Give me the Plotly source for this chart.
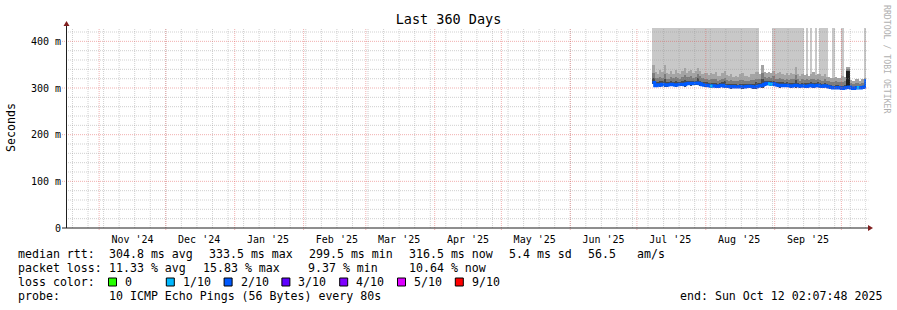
import pandas as pd
import plotly.graph_objects as go

# ---------------- data ----------------
range_start = "2024-10-17 02:07:48"
range_end = "2025-10-12 02:07:48"
first_day = "2025-07-08"

# daily median rtt (ms), Jul 8 .. Oct 12 2025
median_ms = [
    312, 305, 307, 306, 308, 307, 306, 307, 308, 307, 306, 307, 308, 308, 307, 309, 310, 309, 310, 310, 311, 309, 307, 306,
    306, 305, 304, 305, 304, 303, 305, 306, 304, 303, 303, 302, 303, 302, 302, 303, 302, 302, 303, 304, 303, 302, 302, 304,
    305, 306, 308, 310, 309, 308, 309, 307, 306, 305, 306, 305,
    306, 305, 304, 305, 306, 305, 304, 305, 304, 303, 305, 306, 304, 305, 306, 304, 303, 305, 304, 302,
    301, 300, 300, 301, 300, 299, 300, 301,
    302, 300, 299, 300, 301, 300, 301, 302, 316,
]
# lost pings out of 10 per day
loss_count = [
    2, 2, 2, 2, 2, 2, 2, 2, 2, 2, 2, 2, 2, 2, 2, 2, 2, 2, 2, 2, 2, 2, 2, 2,
    2, 2, 1, 2, 2, 2, 2, 2, 2, 2, 2, 2, 2, 2, 2, 2, 2, 2, 2, 2, 2, 2, 2, 2,
    2, 2, 2, 2, 1, 1, 2, 2, 2, 2, 2, 2,
    2, 2, 2, 2, 2, 2, 2, 2, 2, 2, 2, 2, 2, 2, 2, 2, 2, 2, 2, 2,
    2, 2, 2, 2, 2, 2, 2, 2,
    2, 2, 2, 2, 1, 2, 2, 2, 2,
]
# smoke extent below median (ms)
smoke_below = [
    4, 3, 3, 4, 3, 5, 3, 3, 4, 3, 4, 3, 3, 4, 5, 3, 3, 4, 3, 3, 4, 4, 3, 3,
    3, 3, 4, 3, 4, 3, 3, 3, 4, 3, 3, 4, 3, 3, 3, 3, 4, 3, 3, 3, 3, 4, 4, 4,
    3, 5, 4, 3, 3, 3, 4, 3, 3, 4, 3, 3,
    3, 3, 4, 3, 5, 3, 3, 3, 3, 4, 3, 3, 4, 3, 3, 3, 3, 3, 3, 3,
    3, 3, 3, 3, 3, 3, 3, 4,
    4, 3, 3, 3, 3, 3, 3, 3, 3,
]
# dense (dark) smoke above median (ms)
smoke_dark = [
    10, 7, 6, 8, 6, 12, 6, 5, 7, 6, 9, 6, 5, 7, 11, 6, 6, 7, 5, 6, 10, 7, 6, 6,
    6, 5, 7, 6, 7, 5, 5, 6, 10, 6, 5, 7, 5, 6, 5, 6, 7, 6, 5, 5, 6, 7, 10, 7,
    6, 14, 7, 5, 6, 6, 7, 5, 6, 7, 6, 5,
    6, 5, 7, 6, 12, 6, 5, 6, 6, 7, 5, 6, 7, 5, 6, 6, 5, 6, 5, 5,
    5, 5, 6, 5, 5, 6, 6, 36,
    34, 4, 4, 5, 4, 4, 4, 5, 4,
]
# medium smoke above median (ms)
smoke_mid = [
    20, 16, 14, 18, 14, 24, 14, 12, 16, 14, 18, 14, 12, 16, 20, 14, 14, 16, 12, 14, 18, 16, 14, 14,
    14, 12, 16, 14, 16, 12, 12, 14, 18, 14, 12, 16, 12, 14, 12, 14, 16, 14, 12, 12, 14, 16, 18, 16,
    14, 26, 16, 12, 14, 14, 16, 12, 14, 16, 14, 12,
    14, 12, 16, 14, 22, 14, 12, 14, 14, 16, 12, 14, 16, 12, 14, 14, 12, 14, 12, 12,
    12, 12, 14, 12, 12, 14, 14, 40,
    38, 10, 9, 11, 10, 9, 10, 11, 9,
]
# light smoke top above median (ms)
smoke_top = [
    38, 30, 24, 32, 27, 42, 26, 22, 28, 24, 32, 26, 22, 29, 36, 24, 27, 30, 22, 26, 32, 28, 24, 27,
    26, 22, 28, 24, 30, 22, 20, 26, 32, 24, 22, 28, 20, 24, 22, 26, 30, 24, 22, 20, 26, 28, 32, 30,
    24, 44, 27, 22, 26, 24, 28, 22, 26, 30, 24, 22,
    26, 22, 28, 24, 38, 24, 22, 26, 24, 28, 20, 24, 30, 22, 24, 26, 22, 24, 20, 22,
    20, 22, 24, 20, 22, 26, 24, 44,
    42, 18, 16, 20, 18, 16, 18, 20, 16,
]
# 1 = slowest ping off the scale that day
off_scale = [
    1, 1, 1, 1, 1, 1, 1, 1, 1, 1, 1, 1, 1, 1, 1, 1, 1, 1, 1, 1, 1, 1, 1, 1,
    1, 1, 1, 1, 1, 1, 1, 1, 1, 1, 1, 1, 1, 1, 1, 1, 1, 1, 1, 1, 1, 1, 1, 1,
    0, 0, 0, 0, 0, 0, 1, 1, 1, 1, 1, 1,
    1, 1, 1, 1, 1, 1, 1, 1, 0, 1, 0, 1, 0, 1, 0, 1, 1, 1, 1, 0,
    0, 1, 0, 0, 0, 1, 0, 0,
    0, 0, 0, 0, 0, 0, 0, 1, 0,
]

month_labels = ["Nov '24", "Dec '24", "Jan '25", "Feb '25", "Mar '25", "Apr '25",
                "May '25", "Jun '25", "Jul '25", "Aug '25", "Sep '25"]
ytick_vals = [0, 100, 200, 300, 400]
ytick_text = ["0", "100 m", "200 m", "300 m", "400 m"]

legend_rtt = ["304.8 ms avg", "333.5 ms max", "299.5 ms min", "316.5 ms now", "5.4 ms sd", "56.5", "am/s"]
legend_loss = ["11.33 % avg", "15.83 % max", "9.37 % min", "10.64 % now"]
loss_legend = [("0", "#26ff00"), ("1/10", "#00b8ff"), ("2/10", "#0059ff"), ("3/10", "#5e00ff"),
               ("4/10", "#7e00ff"), ("5/10", "#dd00ff"), ("9/10", "#ff0000")]
loss_colors = {0: "#26ff00", 1: "#00b8ff", 2: "#0059ff", 3: "#5e00ff", 4: "#7e00ff", 5: "#dd00ff"}
probe_text = "10 ICMP Echo Pings (56 Bytes) every 80s"
end_text = "end: Sun Oct 12 02:07:48 2025"

# ---------------- geometry ----------------
W, H = 897, 310
L, R, T, B = 66, 31, 28, 82
PW, PH = W - L - R, H - T - B
Y_TOP = 428.6
FONT = "DejaVu Sans Mono"


def px(x):
    return (x - L) / PW


def py(y):
    return (T + PH - y) / PH


days = pd.date_range(first_day, periods=len(median_ms), freq="D")
x_mid = days + pd.Timedelta(hours=12)
DAY_MS = 86400000

fig = go.Figure()


def band(base, height, color):
    fig.add_trace(go.Bar(x=x_mid, y=height, base=base, width=DAY_MS,
                         marker=dict(color=color, line=dict(width=0)),
                         showlegend=False, hoverinfo="skip"))


# off-scale shading to the top
band([m + t if f else None for m, t, f in zip(median_ms, smoke_top, off_scale)],
     [Y_TOP - (m + t) if f else None for m, t, f in zip(median_ms, smoke_top, off_scale)],
     "#c8c8c8")
# light smoke
band([m + md for m, md in zip(median_ms, smoke_mid)],
     [t - md for t, md in zip(smoke_top, smoke_mid)], "#a4a4a4")
# medium smoke
band([m + d for m, d in zip(median_ms, smoke_dark)],
     [md - d for md, d in zip(smoke_mid, smoke_dark)], "#7c7c7c")
# dense smoke (very dense days nearly black)
band([m - b for m, b in zip(median_ms, smoke_below)],
     [b + d for b, d in zip(smoke_below, smoke_dark)],
     ["#1e1e1e" if d > 20 else "#4a4a4a" for d in smoke_dark])

# median line coloured by loss
end_ts = pd.Timestamp(range_end)
fig.add_trace(go.Scatter(x=list(days) + [end_ts], y=median_ms + [median_ms[-1]], mode="lines",
                         line=dict(color=loss_colors[2], width=3, shape="hv"),
                         showlegend=False, hoverinfo="skip"))
for lvl in sorted(set(loss_count)):
    if lvl == 2:
        continue
    xs, ys = [], []
    for d, m, l in zip(days, median_ms, loss_count):
        if l == lvl:
            xs += [d, d + pd.Timedelta(days=1), None]
            ys += [m, m, None]
    fig.add_trace(go.Scatter(x=xs, y=ys, mode="lines", line=dict(color=loss_colors[lvl], width=3),
                             showlegend=False, hoverinfo="skip"))

# ---------------- grid (drawn above, like rrdtool) ----------------
shapes = []
GRID = "rgba(150,150,150,0.45)"
MGRID = "rgba(225,80,80,0.45)"
for d in pd.date_range("2024-10-20", range_end, freq="7D"):
    shapes.append(dict(type="line", xref="x", yref="paper", x0=d, x1=d, y0=0, y1=1, layer="above",
                       line=dict(color=GRID, width=1, dash="1px,1px")))
month_starts = pd.date_range("2024-11-01", range_end, freq="MS")
for d in month_starts:
    shapes.append(dict(type="line", xref="x", yref="paper", x0=d, x1=d, y0=-0.01, y1=1, layer="above",
                       line=dict(color=MGRID, width=1, dash="1px,1px")))
for v in range(20, int(Y_TOP), 20):
    major = v % 100 == 0
    shapes.append(dict(type="line", xref="paper", yref="y", x0=-0.005 if major else 0, x1=1.003, y0=v, y1=v,
                       layer="above", line=dict(color=MGRID if major else GRID, width=1, dash="1px,1px")))

# axes lines and arrows
shapes.append(dict(type="line", xref="paper", yref="paper", x0=px(L + 0.5), x1=px(L + 0.5), y0=0, y1=py(26),
                   layer="above", line=dict(color="#1f1f1f", width=1)))
shapes.append(dict(type="line", xref="paper", yref="paper", x0=px(62), x1=px(869), y0=0, y1=0,
                   layer="above", line=dict(color="#1f1f1f", width=1)))
shapes.append(dict(type="path", xref="paper", yref="paper", xsizemode="pixel", ysizemode="pixel",
                   xanchor=px(L + 0.5), yanchor=py(26), path="M -3,0 L 3,0 L 0,5 Z",
                   fillcolor="#801f1f", line=dict(width=0), layer="above"))
shapes.append(dict(type="path", xref="paper", yref="paper", xsizemode="pixel", ysizemode="pixel",
                   xanchor=px(868), yanchor=0, path="M 0,-3 L 0,3 L 5,0 Z",
                   fillcolor="#801f1f", line=dict(width=0), layer="above"))

# ---------------- legend text ----------------
ann = []
FS = 11.6


def text(x, y, s, size=FS, color="#000000", **kw):
    ann.append(dict(xref="paper", yref="paper", x=px(x), y=py(y), text=s, showarrow=False,
                    xanchor=kw.pop("xanchor", "left"), yanchor="middle",
                    font=dict(family=FONT, size=size, color=color), **kw))


row1, row2, row3, row4 = 254, 268, 282, 296
text(16, row1, "median rtt:")
for s, x in zip(legend_rtt, [107, 207, 307, 407, 507, 586, 635]):
    text(x, row1, s)
text(16, row2, "packet loss:")
for s, x in zip(legend_loss, [107, 201, 305.5, 406.5]):
    text(x, row2, s)
text(16, row3, "loss color:")
for i, (lab, col) in enumerate(loss_legend):
    bx = 108.5 + i * 57.8
    shapes.append(dict(type="rect", xref="paper", yref="paper", x0=px(bx), x1=px(bx + 8),
                       y0=py(row3 + 4), y1=py(row3 - 4), fillcolor=col,
                       line=dict(color="#000000", width=1)))
    text(bx + 14.5, row3, lab)
text(16, row4, "probe:")
text(107, row4, probe_text)
text(678, row4, end_text)

# y title and credit
ann.append(dict(xref="paper", yref="paper", x=px(11), y=py(127), text="Seconds", showarrow=False,
                textangle=-90, xanchor="center", yanchor="middle",
                font=dict(family=FONT, size=FS, color="#000000")))
ann.append(dict(xref="paper", yref="paper", x=px(887), y=py(59), text="RRDTOOL / TOBI OETIKER",
                showarrow=False, textangle=90, xanchor="center", yanchor="middle",
                font=dict(family=FONT, size=8.2, color="#b0b0b0")))

mid_months = month_starts[:len(month_labels)] + pd.Timedelta(days=15)

fig.update_layout(
    width=W, height=H,
    margin=dict(l=L, r=R, t=T, b=B),
    paper_bgcolor="#ffffff", plot_bgcolor="#ffffff",
    barmode="overlay", bargap=0,
    showlegend=False,
    title=dict(text="Last 360 Days", x=0.5, xref="container", xanchor="center",
               y=1 - 19 / H, yref="container", yanchor="middle",
               font=dict(family=FONT, size=13.5, color="#000000")),
    xaxis=dict(type="date", range=[range_start, range_end], showgrid=False, zeroline=False,
               showline=False, showticklabels=False, ticks=""),
    xaxis2=dict(type="date", overlaying="x", matches="x", side="bottom", range=[range_start, range_end],
                tickmode="array", tickvals=list(mid_months), ticktext=month_labels, showgrid=False,
                zeroline=False, showline=False, ticks="", ticklabelstandoff=4,
                tickfont=dict(family=FONT, size=10, color="#000000")),
    yaxis=dict(range=[0, Y_TOP], tickmode="array", tickvals=ytick_vals, ticktext=ytick_text,
               showgrid=False, zeroline=False, showline=False, ticks="", ticklabelstandoff=4,
               tickfont=dict(family=FONT, size=10, color="#000000")),
    shapes=shapes, annotations=ann,
)
# dummy trace to attach xaxis2
fig.add_trace(go.Scatter(x=[range_start], y=[None], xaxis="x2", showlegend=False, hoverinfo="skip"))

fig.write_html("out.html")
